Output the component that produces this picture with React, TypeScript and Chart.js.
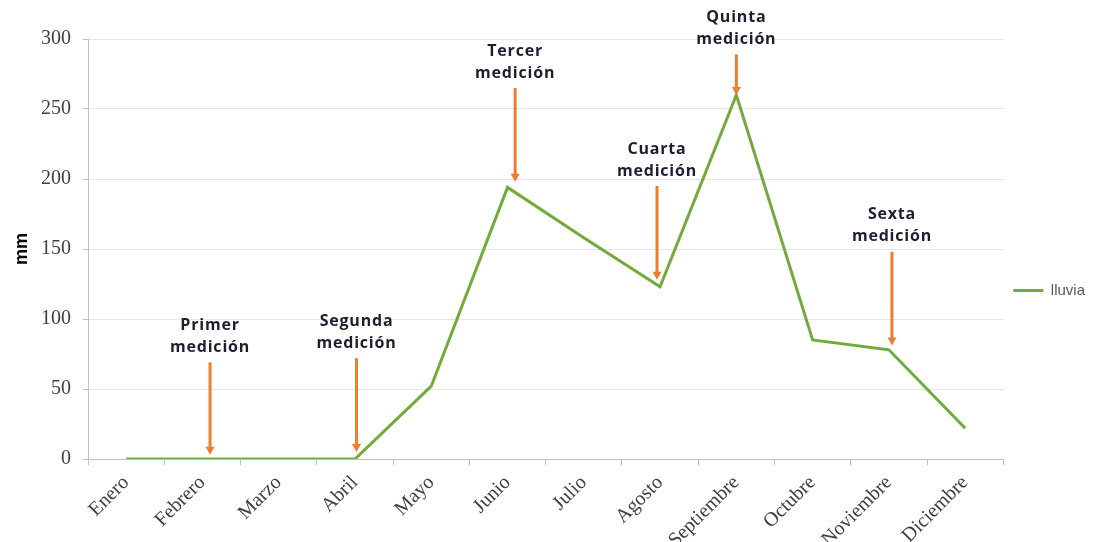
import React, { useEffect, useRef } from 'react';
import { Chart, registerables } from 'chart.js';

Chart.register(...registerables);

// datos
const months = [
  'Enero', 'Febrero', 'Marzo', 'Abril', 'Mayo', 'Junio',
  'Julio', 'Agosto', 'Septiembre', 'Octubre', 'Noviembre', 'Diciembre',
];
const lluvia = [0, 0, 0, 0, 52, 194, 158, 123, 260, 85, 78, 22];
const yMin = 0;
const yMax = 300;
const yStep = 50;

// mediciones: posición en el eje x (índice de mes), y arranque / punta de la flecha en mm
const noteTitles = ['Primer', 'Segunda', 'Tercer', 'Cuarta', 'Quinta', 'Sexta'];
const noteSub = 'medición';
const notePos = [1.1, 3.02, 5.1, 6.96, 8, 10.04];
const noteFrom = [69, 72, 265, 195, 289, 148];
const noteTo = [3, 5, 198, 128, 260, 81];

const GREEN = '#71ab3c';
const ORANGE = '#ed7d31';

const notesPlugin = {
  id: 'notes',
  afterDraw(chart: any) {
    const { ctx, scales } = chart;
    const x = scales.x;
    const y = scales.y;
    ctx.save();
    noteTitles.forEach((title, i) => {
      const px = x.getPixelForValue(notePos[i]);
      const top = y.getPixelForValue(noteFrom[i]);
      const tip = y.getPixelForValue(noteTo[i]);

      ctx.strokeStyle = ORANGE;
      ctx.fillStyle = ORANGE;
      ctx.lineWidth = 3;
      ctx.beginPath();
      ctx.moveTo(px, top);
      ctx.lineTo(px, tip - 7);
      ctx.stroke();
      ctx.beginPath();
      ctx.moveTo(px - 4.5, tip - 8);
      ctx.lineTo(px + 4.5, tip - 8);
      ctx.lineTo(px, tip);
      ctx.closePath();
      ctx.fill();

      ctx.fillStyle = '#1e1e30';
      ctx.font = 'bold 16px "Open Sans"';
      ctx.letterSpacing = '0.8px';
      ctx.textAlign = 'center';
      ctx.textBaseline = 'middle';
      ctx.fillText(title, px, top - 37);
      ctx.fillText(noteSub, px, top - 15);
    });
    ctx.restore();
  },
};

export default function App() {
  const canvasRef = useRef<HTMLCanvasElement>(null);

  useEffect(() => {
    const chart = new Chart(canvasRef.current as HTMLCanvasElement, {
      type: 'line',
      data: {
        labels: months,
        datasets: [
          {
            label: 'lluvia',
            data: lluvia,
            borderColor: GREEN,
            backgroundColor: GREEN,
            borderWidth: 3,
            pointRadius: 0,
            tension: 0,
          },
        ],
      },
      options: {
        animation: false,
        responsive: true,
        maintainAspectRatio: false,
        layout: { padding: { top: 39, right: 17, bottom: 0, left: 0 } },
        plugins: {
          legend: {
            position: 'right',
            labels: {
              usePointStyle: true,
              pointStyle: 'line',
              pointStyleWidth: 30,
              color: '#595959',
              padding: 10,
              font: { family: 'Liberation Sans', size: 15 },
            },
          },
          tooltip: { enabled: false },
        },
        scales: {
          x: {
            offset: true,
            grid: { offset: true, drawOnChartArea: false, tickLength: 6, color: '#bfbfbf' },
            border: { color: '#bfbfbf' },
            ticks: {
              autoSkip: false,
              minRotation: 45,
              maxRotation: 45,
              padding: 6,
              color: '#404040',
              font: { family: 'Liberation Serif', size: 20 },
            },
            afterFit: (s: any) => {
              s.height = 83;
            },
          },
          y: {
            min: yMin,
            max: yMax,
            ticks: {
              stepSize: yStep,
              padding: 12,
              color: '#404040',
              font: { family: 'Liberation Serif', size: 20 },
            },
            grid: { color: '#e6e6e6', tickColor: '#bfbfbf', tickLength: 5 },
            border: { color: '#bfbfbf' },
            title: {
              display: true,
              text: 'mm',
              color: '#000',
              font: { family: 'Liberation Sans', size: 18, weight: 'bold' },
              padding: { top: 11, bottom: 0 },
            },
            afterFit: (s: any) => {
              s.width = 88;
            },
          },
        },
      },
      plugins: [notesPlugin],
    });
    return () => chart.destroy();
  }, []);

  return (
    <div style={{ position: 'fixed', left: 0, top: 0, width: 1112, height: 542, background: '#fff' }}>
      <canvas ref={canvasRef} />
    </div>
  );
}
